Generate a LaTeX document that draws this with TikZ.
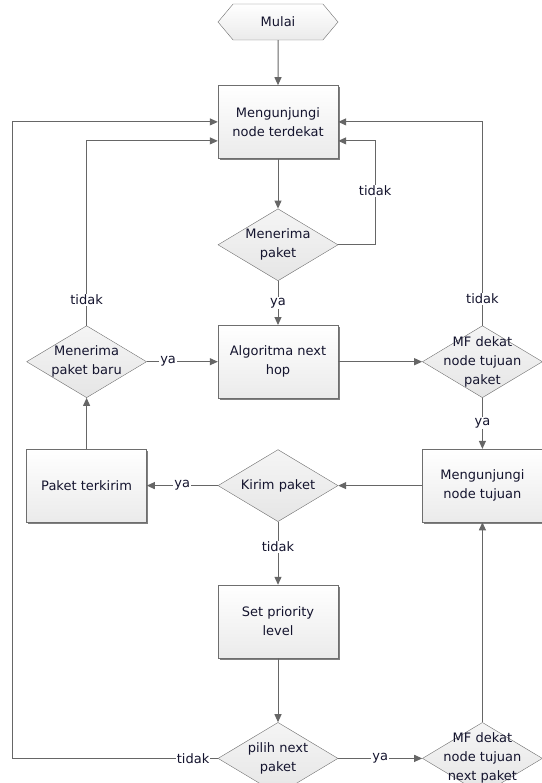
\documentclass[tikz,border=0pt]{standalone}
\usepackage{fontspec}
\setmainfont{DejaVu Sans}
\definecolor{lnc}{HTML}{666666}
\definecolor{bdc}{HTML}{6E6E6E}
\definecolor{txc}{HTML}{14142E}
\usetikzlibrary{shapes.geometric,shapes.symbols,arrows.meta,positioning,shadows}

\begin{document}
\begin{tikzpicture}[
  font=\fontsize{13}{19}\selectfont, text=txc,
  term/.style={signal, signal to=east and west, signal pointer angle=100,
    draw=bdc, top color=white, bottom color=gray!16,
    minimum width=120pt, minimum height=36pt, inner sep=0pt},
  proc/.style={draw=bdc, top color=white, bottom color=gray!16,
    minimum width=120pt, minimum height=73pt, align=center,
    drop shadow={shadow xshift=1.5pt, shadow yshift=-1.5pt, fill=black!50, opacity=1}},
  dec/.style={diamond, draw=bdc, top color=gray!8, bottom color=gray!20,
    minimum width=120pt, minimum height=72pt, inner sep=0pt,
    label={[align=center]center:#1}},
  flow/.style={-{Triangle[length=8pt,width=7pt]}, draw=lnc, line width=1pt},
  ans/.style={fill=white, inner sep=1pt}
]
  \useasboundingbox (0,0) rectangle (541pt,-783pt);

  \node[term] (mulai) at (278pt,-22pt) {Mulai};
  \node[proc, below=45pt of mulai] (visit) {Mengunjungi\\node terdekat};
  \node[dec={Menerima\\paket}, below=50pt of visit] (recv) {};
  \node[proc, below=44pt of recv] (algo) {Algoritma next\\hop};
  \node[dec={Menerima\\paket baru}, left=71pt of algo] (newpkt) {};
  \node[dec={MF dekat\\node tujuan\\paket}, right=84pt of algo] (mfpkt) {};
  \node[dec={Kirim paket}, below=51pt of algo] (send) {};
  \node[proc, left=71pt of send] (sent) {Paket terkirim};
  \node[proc, right=84pt of send] (dest) {Mengunjungi\\node tujuan};
  \node[proc, below=63pt of send] (prio) {Set priority\\level};
  \node[dec={pilih next\\paket}, below=64pt of prio] (pick) {};
  \node[dec={MF dekat\\node tujuan\\next paket}, right=84pt of pick] (mfnext) {};
  \coordinate (lane) at (12pt,0);

  % Main flow
  \draw[flow] (mulai) -- (visit);
  \draw[flow] (visit) -- (recv);
  \draw[flow] (recv) -- node[ans] {ya} (algo);
  \draw[flow] (algo.east) -- (mfpkt.west);
  \draw[flow] (mfpkt) -- node[ans] {ya} (dest);
  \draw[flow] (dest) -- (send);
  \draw[flow] (send) -- node[ans] {ya} (sent);
  \draw[flow] (sent) -- (newpkt);
  \draw[flow] (newpkt.east) -- node[ans, pos=0.3] {ya} (algo.west);
  \draw[flow] (send) -- node[ans, pos=0.4] {tidak} (prio);
  \draw[flow] (prio) -- (pick);
  \draw[flow] (pick) -- node[ans] {ya} (mfnext);
  \draw[flow] (mfnext) -- (dest);

  % Loops back
  \draw[flow] (recv.east) -- ++(37pt,0) |- node[ans, pos=0.26] {tidak} ([yshift=-19pt]visit.east);
  \draw[flow] (mfpkt.north) |- node[ans, pos=0.065] {tidak} (visit.east);
  \draw[flow] (newpkt.north) |- node[ans, pos=0.07] {tidak} ([yshift=-19pt]visit.west);
  \draw[flow] (pick.west) -- node[ans, pos=0.12] {tidak} (pick.west -| lane) |- (visit.west);
\end{tikzpicture}
\end{document}
